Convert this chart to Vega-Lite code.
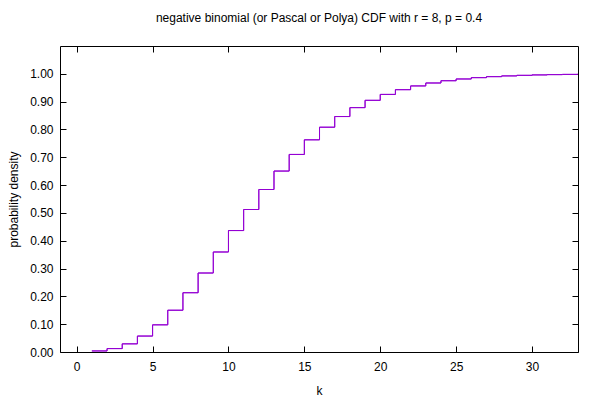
{
  "$schema": "https://vega.github.io/schema/vega-lite/v6.json",
  "autosize": "none",
  "width": 518,
  "height": 306,
  "padding": {"left": 60, "top": 46, "right": 22, "bottom": 48},
  "background": "white",
  "config": {
    "font": "Liberation Sans",
    "view": {"stroke": "black", "strokeWidth": 1},
    "axis": {"grid": false, "domain": false, "tickColor": "black", "tickWidth": 1, "labelColor": "black", "labelFont": "Liberation Sans", "labelFontSize": 12, "titleFont": "Liberation Sans", "titleFontSize": 12, "titleFontWeight": "normal", "titleColor": "black"}
  },
  "title": {"text": "negative binomial (or Pascal or Polya) CDF with r = 8, p = 0.4", "font": "Liberation Sans", "fontSize": 12, "fontWeight": "normal", "color": "black", "anchor": "middle", "offset": 21},
  "data": {"values": [
    {"k": 1, "cdf": 0.003801},
    {"k": 2, "cdf": 0.012295},
    {"k": 3, "cdf": 0.029282},
    {"k": 4, "cdf": 0.05731},
    {"k": 5, "cdf": 0.097671},
    {"k": 6, "cdf": 0.15014},
    {"k": 7, "cdf": 0.213103},
    {"k": 8, "cdf": 0.283936},
    {"k": 9, "cdf": 0.359491},
    {"k": 10, "cdf": 0.436557},
    {"k": 11, "cdf": 0.512221},
    {"k": 12, "cdf": 0.584102},
    {"k": 13, "cdf": 0.650455},
    {"k": 14, "cdf": 0.710172},
    {"k": 15, "cdf": 0.762723},
    {"k": 16, "cdf": 0.808048},
    {"k": 17, "cdf": 0.846441},
    {"k": 18, "cdf": 0.878435},
    {"k": 19, "cdf": 0.904704},
    {"k": 20, "cdf": 0.925982},
    {"k": 21, "cdf": 0.943004},
    {"k": 22, "cdf": 0.956467},
    {"k": 23, "cdf": 0.967003},
    {"k": 24, "cdf": 0.975169},
    {"k": 25, "cdf": 0.98144},
    {"k": 26, "cdf": 0.986216},
    {"k": 27, "cdf": 0.989824},
    {"k": 28, "cdf": 0.99253},
    {"k": 29, "cdf": 0.994546},
    {"k": 30, "cdf": 0.996038},
    {"k": 31, "cdf": 0.997135},
    {"k": 32, "cdf": 0.997937},
    {"k": 33, "cdf": 0.998521},
    {"k": 34, "cdf": 0.998946}
  ]},
  "resolve": {"axis": {"x": "independent", "y": "independent"}},
  "layer": [
    {
      "mark": {"type": "line", "interpolate": "step-after", "color": "#9400d3", "strokeWidth": 1, "clip": true},
      "encoding": {
        "x": {"field": "k", "type": "quantitative", "scale": {"domain": [-1.1, 33.03], "nice": false, "zero": false},
              "axis": {"title": "k", "values": [0, 5, 10, 15, 20, 25, 30], "tickSize": -6, "labelPadding": 15, "titlePadding": 13, "labelFlush": false}},
        "y": {"field": "cdf", "type": "quantitative", "scale": {"domain": [0, 1.1], "nice": false},
              "axis": {"title": "probability density", "values": [0, 0.1, 0.2, 0.3, 0.4, 0.5, 0.6, 0.7, 0.8, 0.9, 1.0], "format": ".2f", "tickSize": -6, "labelPadding": 13, "titlePadding": 9, "labelFlush": false}}
      }
    },
    {
      "mark": {"type": "line", "interpolate": "step-after", "color": "#9400d3", "strokeWidth": 1, "clip": true},
      "encoding": {
        "x": {"field": "k", "type": "quantitative", "scale": {"domain": [-1.1, 33.03], "nice": false, "zero": false},
              "axis": {"orient": "top", "title": null, "labels": false, "values": [0, 5, 10, 15, 20, 25, 30], "tickSize": -6}},
        "y": {"field": "cdf", "type": "quantitative", "scale": {"domain": [0, 1.1], "nice": false},
              "axis": {"orient": "right", "title": null, "labels": false, "values": [0, 0.1, 0.2, 0.3, 0.4, 0.5, 0.6, 0.7, 0.8, 0.9, 1.0], "tickSize": -6}}
      }
    }
  ]
}
